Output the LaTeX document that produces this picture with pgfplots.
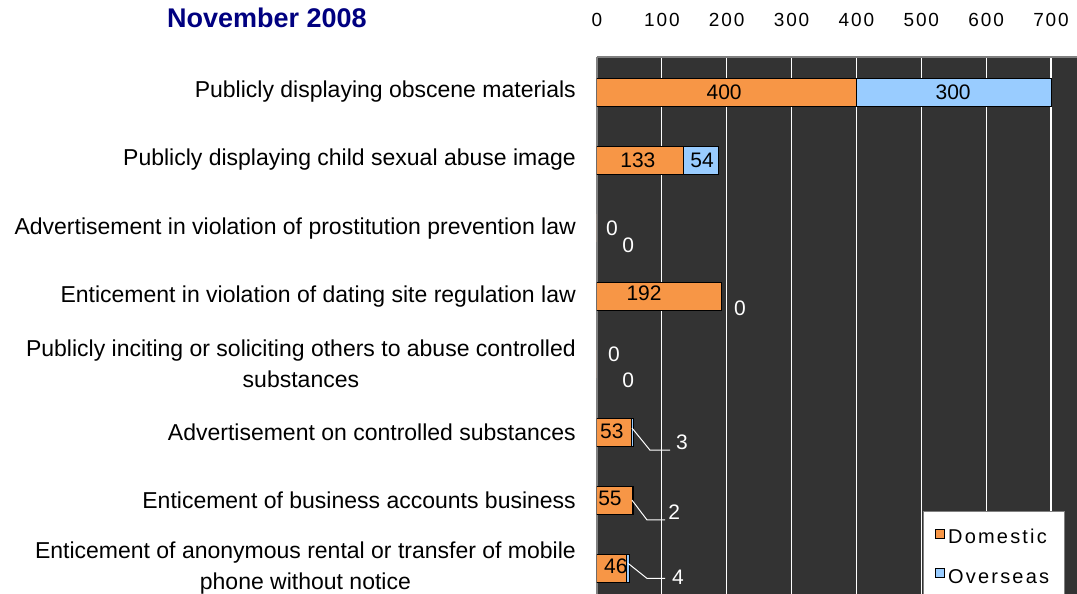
\documentclass[border=0pt]{standalone}
\usepackage{pgfplots}
\pgfplotsset{compat=1.18}
\usepackage{pgfplotstable}
\usepackage{fontspec}
\setmainfont{Liberation Sans}
\newfontfamily\spaced[LetterSpace=10]{Liberation Sans}
\newfontfamily\wide[LetterSpace=11]{Liberation Sans}
\definecolor{dom}{RGB}{247,150,70}
\definecolor{ovs}{RGB}{153,204,255}
\definecolor{bg}{RGB}{51,51,51}
\definecolor{ttl}{RGB}{0,0,128}

\pgfplotstableread{
y dom ovs
0 400 300
1 133 54
2 0 0
3 192 0
4 0 0
5 53 3
6 55 2
7 46 4
}\bars

\pgfplotstableread{
x y lab
196 0 400
549 0 300
63 1 133
162 1 54
72.5 2.96 192
23 4.99 53
20 5.97 55
29 6.97 46
}\blacklabels

\pgfplotstableread{
x y lab
23 2.0 0
48 2.25 0
220.5 3.18 0
26 3.85 0
48 4.24 0
131 5.15 3
119 6.18 2
125 7.13 4
}\whitelabels

\begin{document}
\begin{tikzpicture}
\useasboundingbox (-597bp,0bp) rectangle (480bp,594bp);
\node[font=\fontsize{27bp}{30bp}\selectfont\bfseries, text=ttl] at (-330bp,576bp) {November 2008};
\begin{axis}[
  at={(0,0)}, anchor=south west,
  scale only axis, width=480bp, height=537bp,
  xmin=0, xmax=740, ymin=-0.515, ymax=7.38, y dir=reverse,
  axis background/.style={fill=bg},
  axis x line*=top, axis y line*=left,
  axis line style={gray, line width=1.2bp, -},
  xtick={0,100,...,700},
  /pgf/number format/assume math mode=true,
  xticklabel style={font=\spaced\fontsize{19bp}{22bp}\selectfont, inner sep=0pt, anchor=south, yshift=30bp},
  ytick={0,...,7},
  yticklabels={
    Publicly displaying obscene materials,
    Publicly displaying child sexual abuse image,
    Advertisement in violation of prostitution prevention law,
    Enticement in violation of dating site regulation law,
    {Publicly inciting or soliciting others to abuse controlled\\substances},
    Advertisement on controlled substances,
    Enticement of business accounts business,
    {Enticement of anonymous rental or transfer of mobile\\phone without notice}
  },
  yticklabel style={font=\fontsize{23bp}{31bp}\selectfont, align=center, anchor=east, inner sep=0pt, xshift=-21bp},
  major tick length=0pt,
  xmajorgrids, grid style={white, line width=1.2bp},
  scaled x ticks=false,
  reverse legend,
  legend image code/.code={\draw[#1,draw=black] (0bp,-1bp) rectangle (9bp,8bp);},
  legend style={at={(0.679,0.1546)}, anchor=north west, draw=gray, fill=white,
    font=\wide\fontsize{20bp}{24bp}\selectfont, row sep=20bp, inner xsep=12bp, inner ysep=16bp,
    nodes={inner xsep=3bp}},
  legend cell align=left,
]
\addplot[xbar, bar width=28bp, bar shift=0pt, fill=ovs, draw=black, line width=1bp]
  table[y=y, x expr=\thisrow{dom}+\thisrow{ovs}] {\bars};
\addlegendentry{Overseas}
\addplot[xbar, bar width=28bp, bar shift=0pt, fill=dom, draw=black, line width=1bp]
  table[y=y, x=dom] {\bars};
\addlegendentry{Domestic}

\addplot[white, line width=1bp, forget plot] coordinates {(54,4.94) (81.7,5.265) (112.6,5.265)};
\addplot[white, line width=1bp, forget plot] coordinates {(54,6.0) (77,6.29) (105,6.29)};
\addplot[white, line width=1bp, forget plot] coordinates {(48,6.93) (77,7.15) (105,7.15)};

\addplot[draw=none, mark=none, forget plot, nodes near coords, point meta=explicit symbolic,
  nodes near coords style={anchor=center, inner sep=0pt, text=black, font=\fontsize{21bp}{24bp}\selectfont}]
  table[x=x, y=y, meta=lab] {\blacklabels};
\addplot[draw=none, mark=none, forget plot, nodes near coords, point meta=explicit symbolic,
  nodes near coords style={anchor=center, inner sep=0pt, text=white, font=\fontsize{21bp}{24bp}\selectfont}]
  table[x=x, y=y, meta=lab] {\whitelabels};
\end{axis}
\end{tikzpicture}
\end{document}
